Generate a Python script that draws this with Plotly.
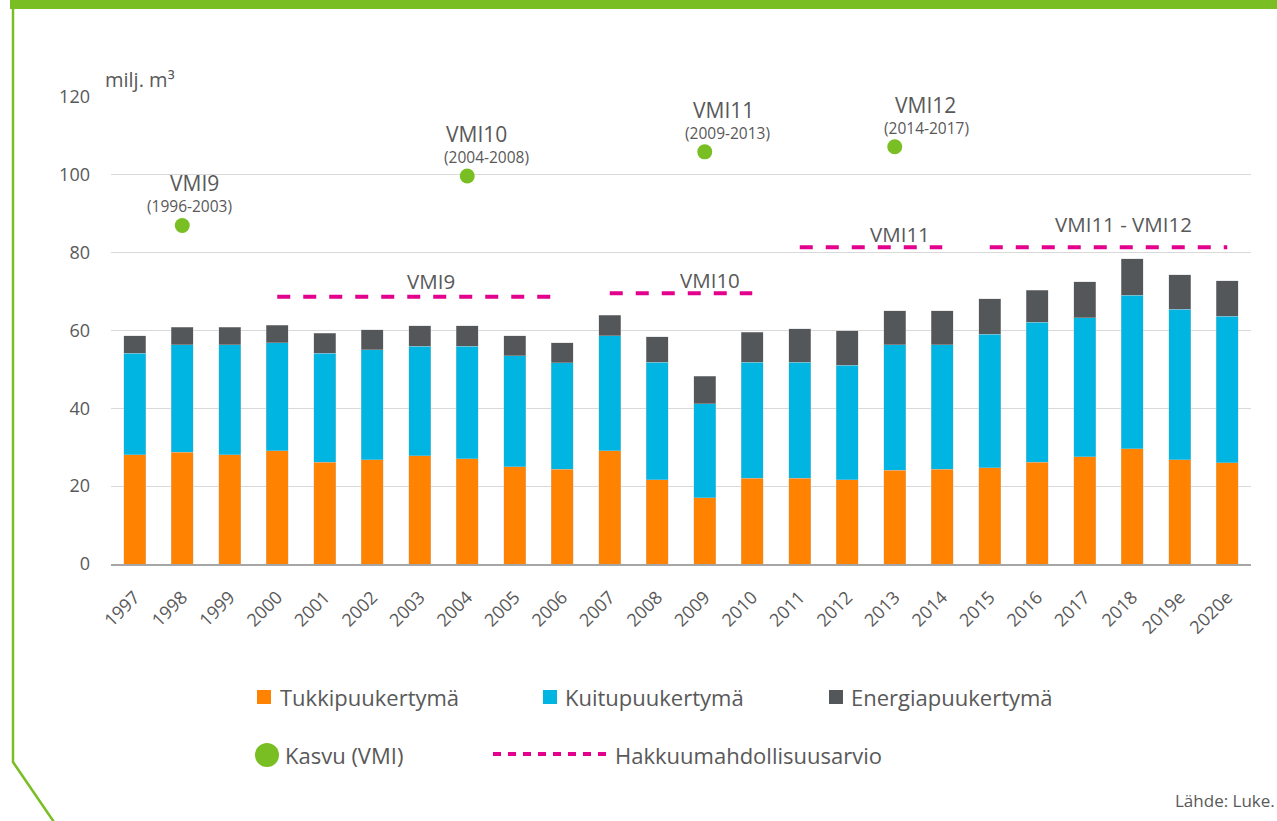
import plotly.graph_objects as go

# ---------------- data ----------------
years = ["1997", "1998", "1999", "2000", "2001", "2002", "2003", "2004", "2005",
         "2006", "2007", "2008", "2009", "2010", "2011", "2012", "2013", "2014",
         "2015", "2016", "2017", "2018", "2019e", "2020e"]
tukki = [28.1, 28.7, 28.1, 29.1, 26.2, 26.8, 27.8, 27.1, 25.0, 24.4, 29.1, 21.6,
         17.0, 22.0, 22.0, 21.6, 24.1, 24.4, 24.7, 26.1, 27.5, 29.6, 26.8, 26.0]
kuitu = [26.0, 27.6, 28.2, 27.8, 27.9, 28.3, 28.1, 28.8, 28.5, 27.3, 29.6, 30.3,
         24.2, 29.9, 29.9, 29.5, 32.2, 31.9, 34.3, 36.0, 35.8, 39.5, 38.7, 37.6]
energia = [4.6, 4.6, 4.6, 4.5, 5.2, 5.1, 5.3, 5.3, 5.2, 5.1, 5.2, 6.5,
           7.1, 7.7, 8.6, 8.8, 8.8, 8.8, 9.2, 8.2, 9.2, 9.3, 8.8, 9.2]

kasvu_years = ["1998", "2004", "2009", "2013"]
kasvu = [87.0, 99.7, 105.9, 107.2]
kasvu_names = ["VMI9", "VMI10", "VMI11", "VMI12"]
kasvu_periods = ["(1996-2003)", "(2004-2008)", "(2009-2013)", "(2014-2017)"]

hakkuu_start = ["2000", "2007", "2011", "2015"]
hakkuu_end = ["2006", "2010", "2014", "2020e"]
hakkuu = [68.7, 69.6, 81.4, 81.4]
hakkuu_names = ["VMI9", "VMI10", "VMI11", "VMI11 - VMI12"]

y_ticks = [0, 20, 40, 60, 80, 100, 120]

# ---------------- style ----------------
W, H = 1277, 821
M = dict(l=111, r=26, t=97, b=257)
PW = W - M["l"] - M["r"]
PH = H - M["t"] - M["b"]
FONT = "Open Sans, Liberation Sans, DejaVu Sans, sans-serif"
TXT = "#595959"
ORANGE = "#FF8300"
BLUE = "#00B5E1"
DARK = "#54575A"
GREEN = "#79BE22"
PINK = "#E3008C"

kasvu_name_dx = [12, 9, 19, 31]
kasvu_period_dx = [7, 19, 23, 32]
hakkuu_label_dx = [11, 29, 29, 15]
hakkuu_label_dy = [16, 13, 13, 23]


def px(x):
    return (x - M["l"]) / PW


def py(y):
    return (H - M["b"] - y) / PH


fig = go.Figure()
for name, vals, col in [("Tukkipuukertymä", tukki, ORANGE),
                        ("Kuitupuukertymä", kuitu, BLUE),
                        ("Energiapuukertymä", energia, DARK)]:
    fig.add_trace(go.Bar(x=years, y=vals, name=name, marker_color=col,
                         marker_line=dict(width=0.6, color="rgba(200,200,200,0.6)"),
                         showlegend=False))

fig.add_trace(go.Scatter(x=kasvu_years, y=kasvu, mode="markers", name="Kasvu (VMI)",
                         marker=dict(size=15, color=GREEN), showlegend=False))

annotations = []
for i, (s, e, v) in enumerate(zip(hakkuu_start, hakkuu_end, hakkuu)):
    i0, i1 = years.index(s), years.index(e)
    seg = years[i0:i1 + 1]
    fig.add_trace(go.Scatter(x=seg, y=[v] * len(seg), mode="lines",
                             name="Hakkuumahdollisuusarvio",
                             line=dict(color=PINK, width=4, dash="13px,13px"),
                             showlegend=False))
    annotations.append(dict(x=(i0 + i1) / 2, y=v, xref="x", yref="y",
                            text=hakkuu_names[i], showarrow=False,
                            xshift=hakkuu_label_dx[i], yshift=hakkuu_label_dy[i],
                            yanchor="middle", font=dict(size=20.5, color=TXT)))

for i, (xv, v) in enumerate(zip(kasvu_years, kasvu)):
    xi = years.index(xv)
    annotations.append(dict(x=xi, y=v, xref="x", yref="y", text=kasvu_names[i],
                            showarrow=False, xshift=kasvu_name_dx[i], yshift=42,
                            yanchor="middle", font=dict(size=21, color=TXT)))
    annotations.append(dict(x=xi, y=v, xref="x", yref="y", text=kasvu_periods[i],
                            showarrow=False, xshift=kasvu_period_dx[i], yshift=19,
                            yanchor="middle", font=dict(size=15.5, color=TXT)))

# axis unit label and source
annotations.append(dict(x=px(103), y=py(80), xref="paper", yref="paper", text="milj. m³",
                        showarrow=False, xanchor="left", yanchor="middle",
                        font=dict(size=20, color=TXT)))
annotations.append(dict(x=px(1277), y=py(800), xref="paper", yref="paper", text="Lähde: Luke.",
                        showarrow=False, xanchor="right", yanchor="middle",
                        font=dict(size=17, color=TXT)))

shapes = []
# green frame
shapes.append(dict(type="rect", xref="paper", yref="paper", x0=px(10), x1=px(1277),
                   y0=py(0), y1=py(9), fillcolor=GREEN, line=dict(width=0), layer="above"))
shapes.append(dict(type="path", xref="paper", yref="paper",
                   path=f"M {px(13)},{py(5)} L {px(13)},{py(762)} L {px(56)},{py(825)}",
                   line=dict(color=GREEN, width=2.5)))

# manual legend
legend_items = [("Tukkipuukertymä", ORANGE, 264, 697, 278),
                ("Kuitupuukertymä", BLUE, 550, 697, 563),
                ("Energiapuukertymä", DARK, 836, 697, 849)]
for text, col, cx, cy, tx in legend_items:
    shapes.append(dict(type="rect", xref="paper", yref="paper",
                       x0=px(cx - 7), x1=px(cx + 7), y0=py(cy - 7), y1=py(cy + 7),
                       fillcolor=col, line=dict(width=0)))
    annotations.append(dict(x=px(tx), y=py(cy), xref="paper", yref="paper", text=text,
                            showarrow=False, xanchor="left", yanchor="middle",
                            font=dict(size=22, color=TXT)))
shapes.append(dict(type="circle", xref="paper", yref="paper",
                   x0=px(255), x1=px(279), y0=py(743), y1=py(767),
                   fillcolor=GREEN, line=dict(width=0)))
annotations.append(dict(x=px(283), y=py(755), xref="paper", yref="paper", text="Kasvu (VMI)",
                        showarrow=False, xanchor="left", yanchor="middle",
                        font=dict(size=22, color=TXT)))
shapes.append(dict(type="line", xref="paper", yref="paper",
                   x0=px(493), x1=px(608), y0=py(754), y1=py(754),
                   line=dict(color=PINK, width=4, dash="8px,7px")))
annotations.append(dict(x=px(613), y=py(755), xref="paper", yref="paper",
                        text="Hakkuumahdollisuusarvio",
                        showarrow=False, xanchor="left", yanchor="middle",
                        font=dict(size=22, color=TXT)))

fig.update_layout(
    width=W, height=H, margin=M,
    barmode="stack", bargap=0.53,
    plot_bgcolor="white", paper_bgcolor="white",
    font=dict(family=FONT, color=TXT),
    showlegend=False,
    annotations=annotations, shapes=shapes,
    xaxis=dict(type="category", categoryorder="array", categoryarray=years,
               range=[-0.5, len(years) - 0.5], tickangle=-45,
               tickfont=dict(size=18, color=TXT), showgrid=False,
               showline=True, linecolor="#A6A6A6", linewidth=1.5, ticks="",
               ticklabelstandoff=14),
    yaxis=dict(range=[0, 120], tickvals=y_ticks, showgrid=True, gridcolor="#D9D9D9",
               gridwidth=1, zeroline=False, showline=False, ticks="",
               tickfont=dict(size=18, color=TXT), ticklabelstandoff=20),
)

fig.write_html("out.html", config={"displayModeBar": False},
               post_script="document.body.style.margin='0';")
